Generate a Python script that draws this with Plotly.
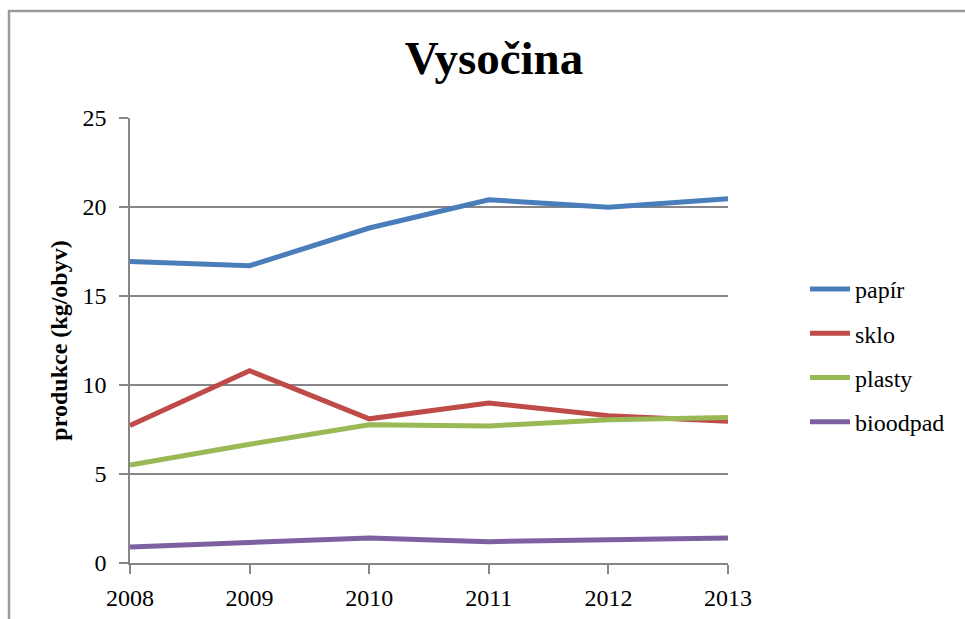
import plotly.graph_objects as go

years = [2008, 2009, 2010, 2011, 2012, 2013]
papir = [16.94, 16.7, 18.82, 20.41, 19.98, 20.47]
sklo = [7.73, 10.8, 8.1, 8.99, 8.27, 7.96]
plasty = [5.5, 6.67, 7.76, 7.7, 8.05, 8.18]
bioodpad = [0.9, 1.15, 1.41, 1.2, 1.28, 1.41]

series_names = ["papír", "sklo", "plasty", "bioodpad"]
series_values = [papir, sklo, plasty, bioodpad]
colors = ["#4A7EBB", "#BE4B48", "#98B954", "#7D60A0"]

FONT = "Liberation Serif, Times New Roman, serif"

fig = go.Figure()
for i, (name, vals, col) in enumerate(zip(series_names, series_values, colors)):
    fig.add_trace(go.Scatter(
        x=years, y=vals, name=name, mode="lines",
        line=dict(color=col, width=5),
        legendgroup=f"g{i}",
    ))

W, H = 965, 619
ml, mr, mt, mb = 130, 237, 118, 56
PW, PH = W - ml - mr, H - mt - mb

fig.update_layout(
    width=W, height=H,
    margin=dict(l=ml, r=mr, t=mt, b=mb, autoexpand=False),
    paper_bgcolor="white", plot_bgcolor="white",
    font=dict(family=FONT, size=24, color="black"),
    title=dict(text="<b>Vysočina</b>", x=494 / W, xanchor="center",
               xref="container", y=1 - 58 / H, yanchor="middle", yref="container",
               font=dict(family=FONT, size=47, color="black")),
    showlegend=True,
    legend=dict(x=(805 - ml) / PW, xanchor="left", y=(H - mb - 267) / PH,
                yanchor="top", font=dict(family=FONT, size=24), tracegroupgap=10,
                itemwidth=40, bgcolor="rgba(0,0,0,0)"),
    xaxis=dict(range=[2008, 2013], dtick=1, tick0=2008, showgrid=False,
               showline=True, linecolor="#868686", linewidth=1.5,
               ticks="outside", ticklen=9, tickcolor="#868686", tickwidth=1.5,
               ticklabelstandoff=3, zeroline=False,
               tickfont=dict(family=FONT, size=24)),
    yaxis=dict(range=[0, 25], dtick=5, showgrid=True, gridcolor="#868686", gridwidth=1.5,
               showline=True, linecolor="#868686", linewidth=1.5,
               ticks="outside", ticklen=9, tickcolor="#868686", tickwidth=1.5,
               ticklabelstandoff=8, zeroline=False,
               tickfont=dict(family=FONT, size=24),
               title=dict(text="<b>produkce (kg/obyv)</b>", standoff=8,
                          font=dict(family=FONT, size=24))),
)

# chart frame (left and top edges visible)
fig.add_shape(type="rect", xref="paper", yref="paper",
              x0=(9 - ml) / PW, x1=(990 - ml) / PW,
              y0=(H - mb - 640) / PH, y1=(H - mb - 11) / PH,
              line=dict(color="#9a9a9a", width=2.5), layer="below")

fig.write_html("out.html", config={"displayModeBar": False},
               post_script="document.body.style.margin='0';document.body.style.padding='0';")
